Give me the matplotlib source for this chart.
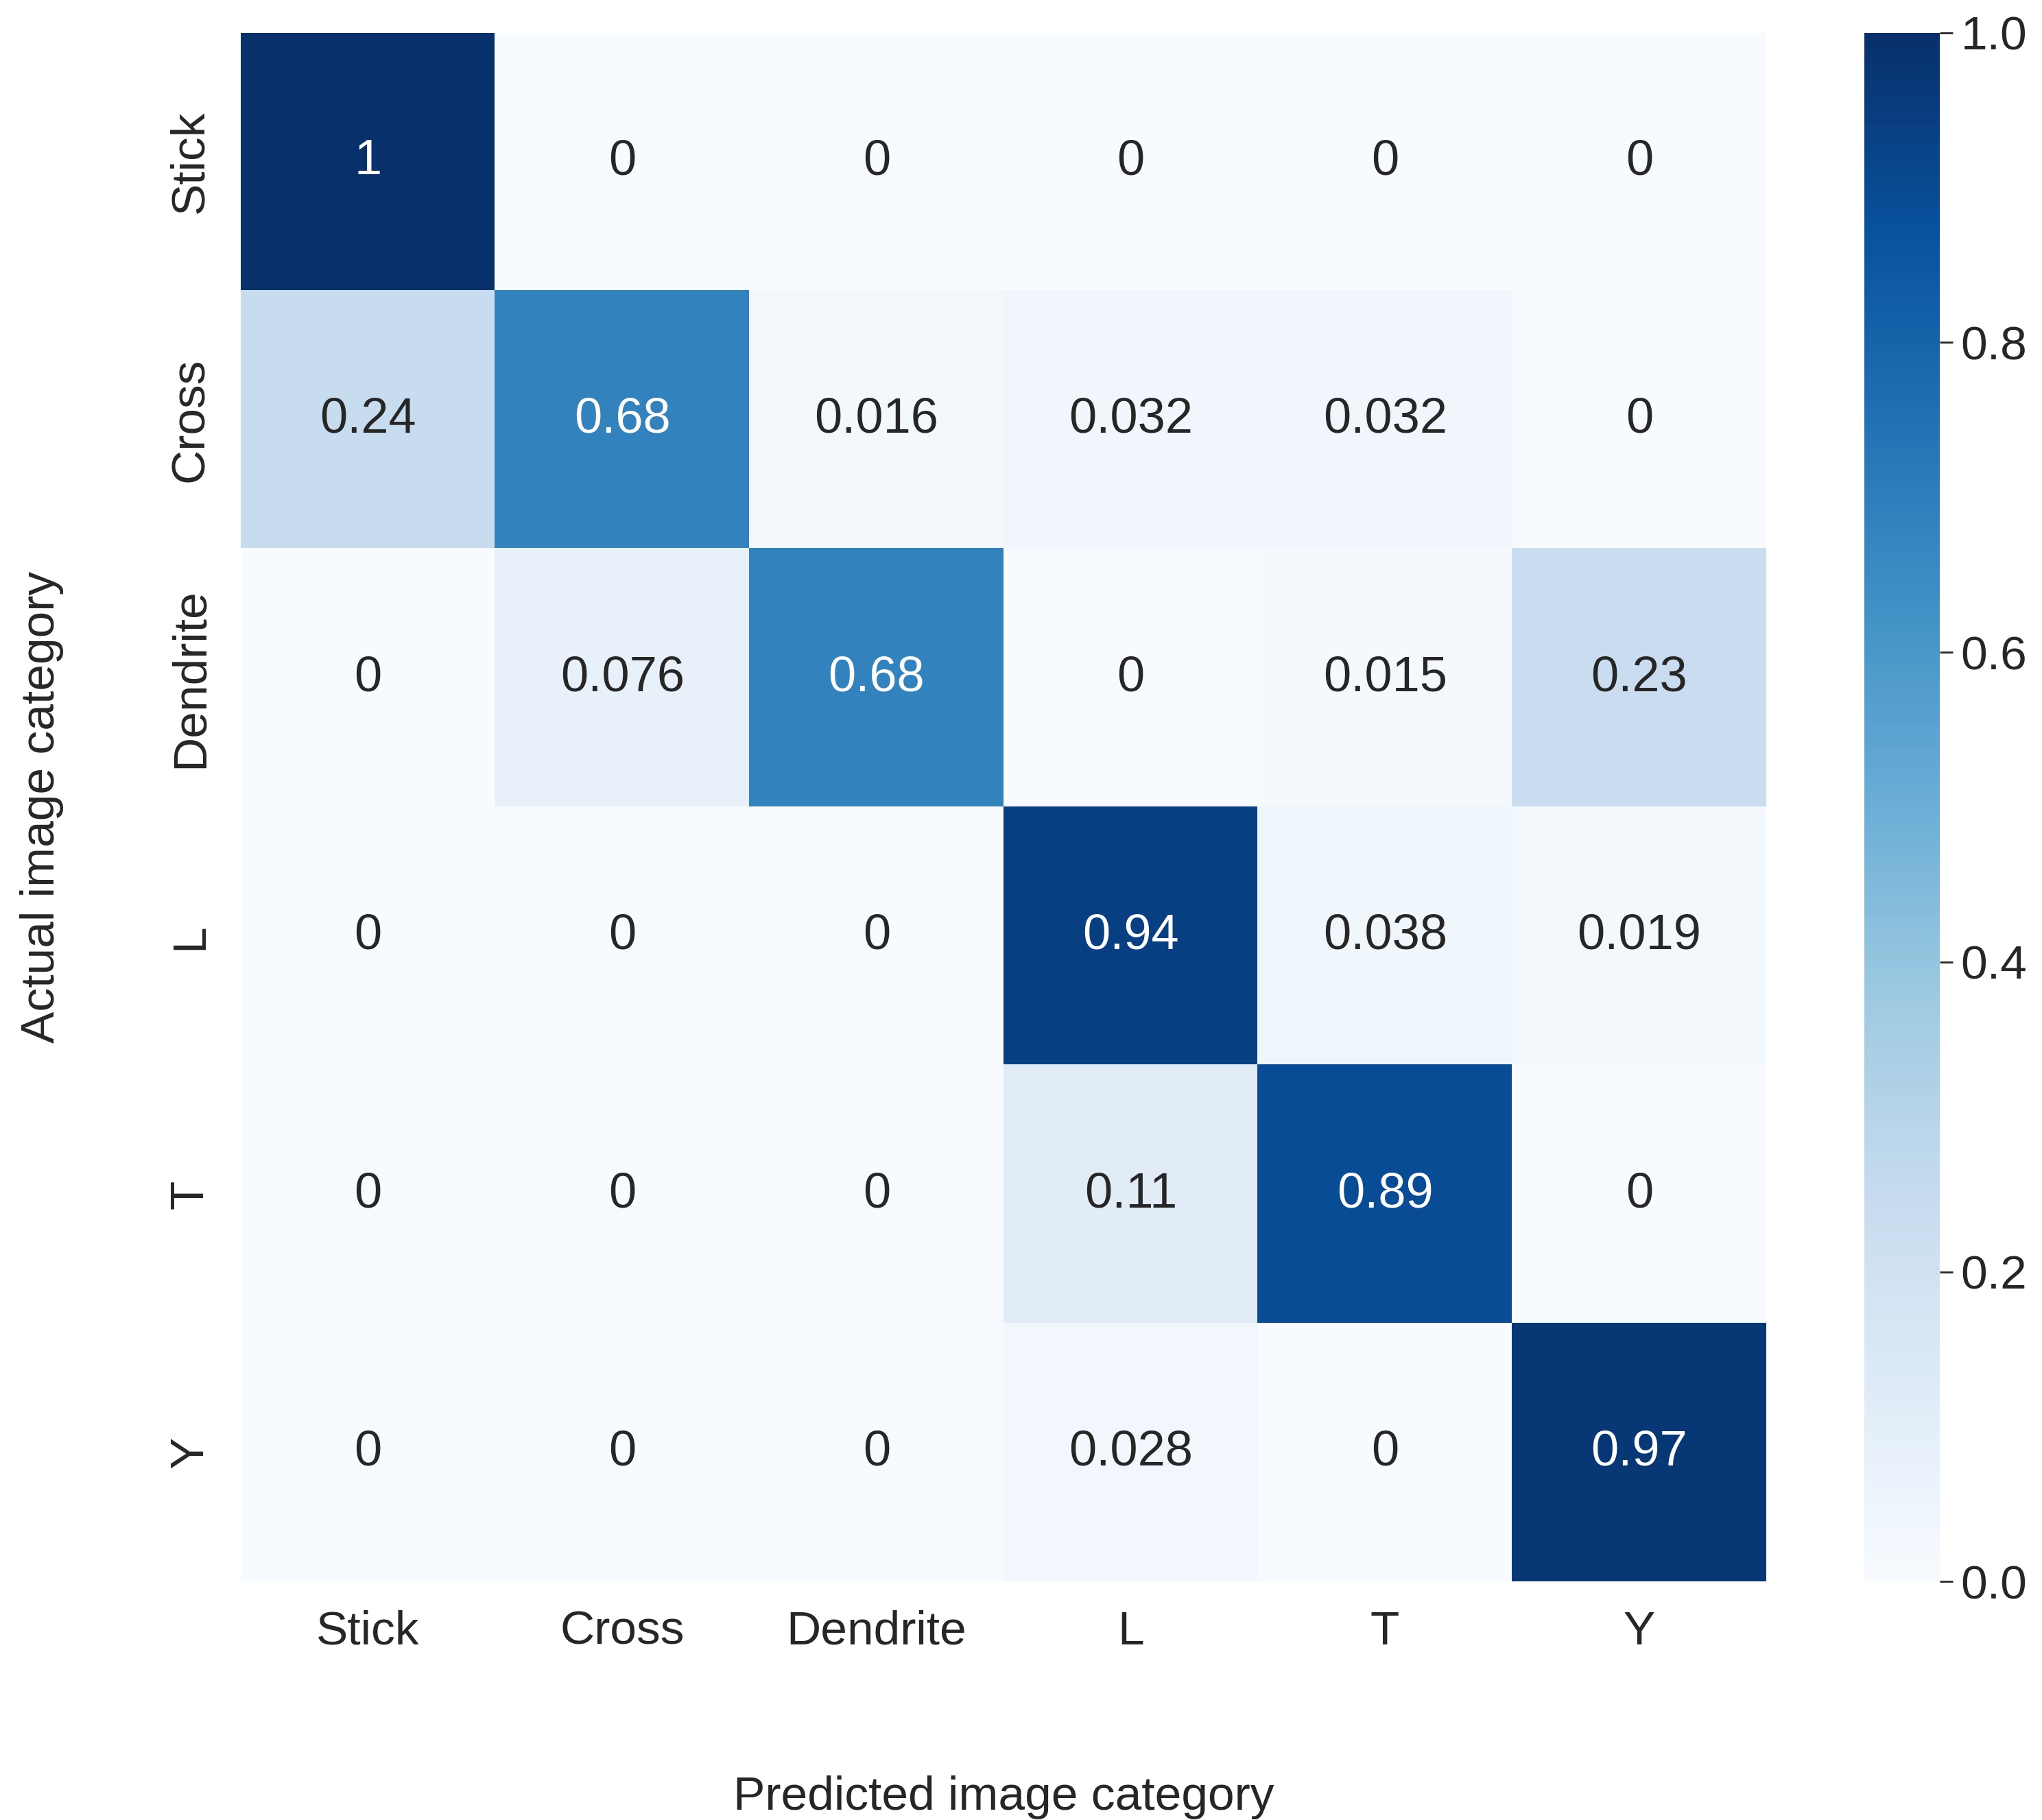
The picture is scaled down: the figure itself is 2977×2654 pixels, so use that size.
import numpy as np
import matplotlib
matplotlib.use("Agg")
import matplotlib.pyplot as plt

plt.rcParams["font.family"] = "Liberation Sans"

categories = ["Stick", "Cross", "Dendrite", "L", "T", "Y"]
values = [
    [1.0, 0.0, 0.0, 0.0, 0.0, 0.0],
    [0.24, 0.68, 0.016, 0.032, 0.032, 0.0],
    [0.0, 0.076, 0.68, 0.0, 0.015, 0.23],
    [0.0, 0.0, 0.0, 0.94, 0.038, 0.019],
    [0.0, 0.0, 0.0, 0.11, 0.89, 0.0],
    [0.0, 0.0, 0.0, 0.028, 0.0, 0.97],
]
labels = [
    ["1", "0", "0", "0", "0", "0"],
    ["0.24", "0.68", "0.016", "0.032", "0.032", "0"],
    ["0", "0.076", "0.68", "0", "0.015", "0.23"],
    ["0", "0", "0", "0.94", "0.038", "0.019"],
    ["0", "0", "0", "0.11", "0.89", "0"],
    ["0", "0", "0", "0.028", "0", "0.97"],
]

data = np.array(values)
fig = plt.figure(figsize=(29.77, 26.54), dpi=100)
ax = fig.add_axes([0.118, 0.131, 0.747, 0.851])
cax = fig.add_axes([0.913, 0.131, 0.037, 0.851])

im = ax.imshow(data, cmap="Blues", vmin=0, vmax=1, aspect="auto")
for i in range(len(categories)):
    for j in range(len(categories)):
        color = "white" if data[i, j] > 0.5 else "#262626"
        ax.text(j, i, labels[i][j], ha="center", va="center", fontsize=52, color=color)

ax.set_xticks(range(len(categories)))
ax.set_xticklabels(categories, fontsize=50, color="#262626")
ax.set_yticks(range(len(categories)))
ax.set_yticklabels(categories, fontsize=50, rotation=90, va="center", color="#262626")
ax.tick_params(length=0, pad=30)
for s in ax.spines.values():
    s.set_visible(False)
ax.set_xlabel("Predicted image category", fontsize=50, labelpad=150, color="#262626")
ax.set_ylabel("Actual image category", fontsize=50, labelpad=110, color="#262626")
ax.xaxis.set_label_coords(0.5, -0.125)

cb = fig.colorbar(im, cax=cax)
cb.outline.set_visible(False)
cb.set_ticks([0, 0.2, 0.4, 0.6, 0.8, 1.0])
cb.ax.tick_params(labelsize=50, length=14, width=2, colors="#262626", pad=8)

fig.savefig("out.png", dpi=100)
